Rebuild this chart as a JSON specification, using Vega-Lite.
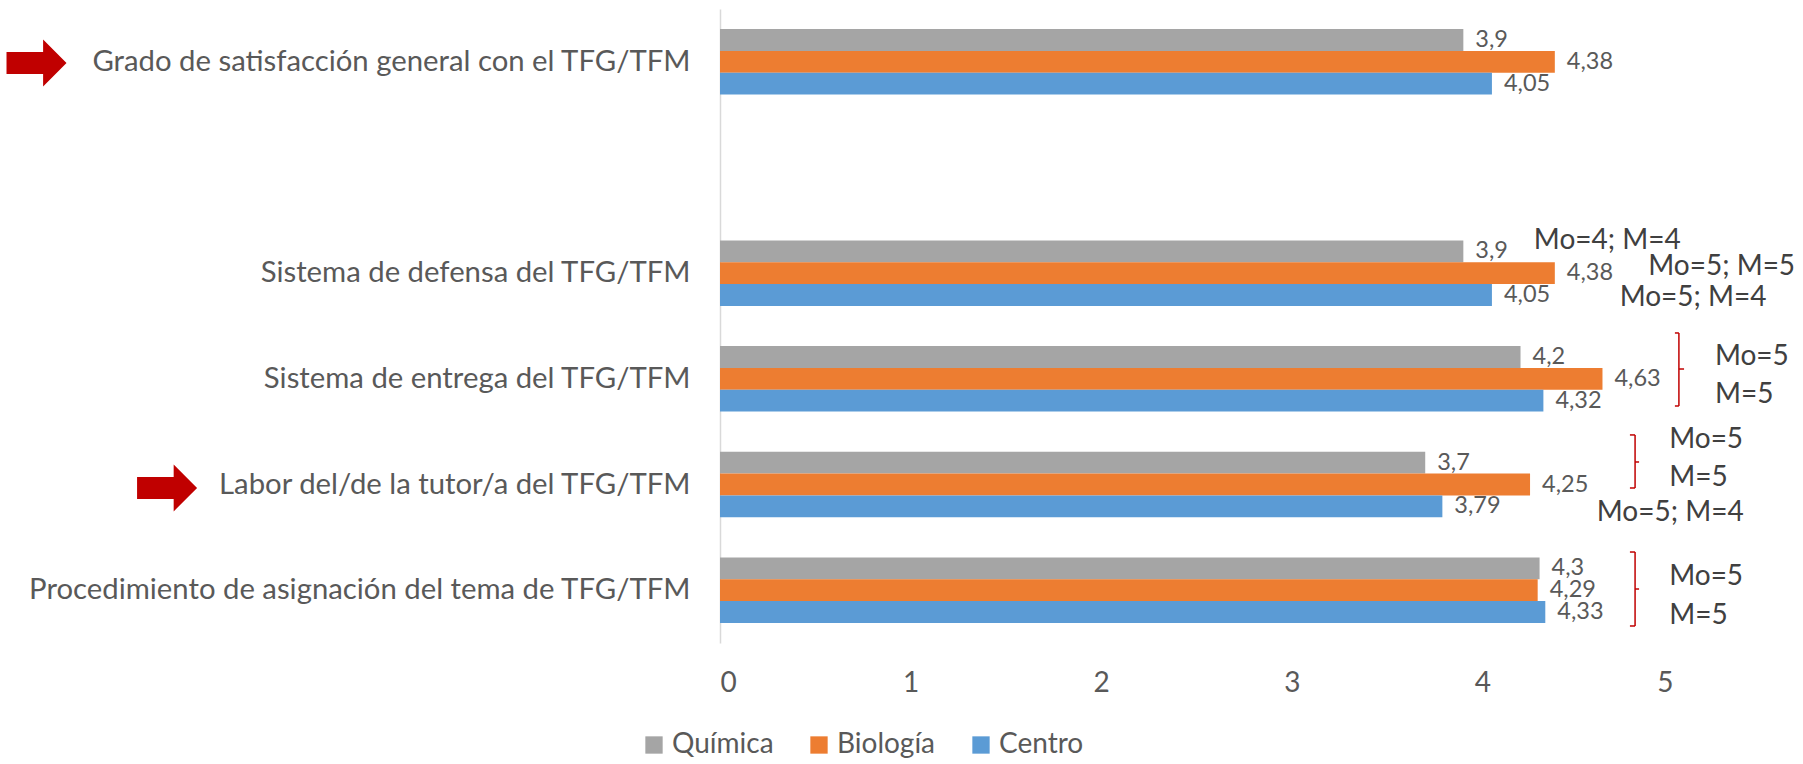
{
  "$schema": "https://vega.github.io/schema/vega-lite/v6.json",
  "width": 953,
  "height": 634,
  "autosize": {"type": "none"},
  "padding": {"left": 720, "top": 9, "right": 130, "bottom": 121},
  "background": "#ffffff",
  "config": {
    "view": {"stroke": null},
    "font": "Lato",
    "text": {"font": "Lato"}
  },
  "datasets": {
    "bars": [
      {"cat": "Grado de satisfacción general con el TFG/TFM", "serie": "Química", "v": 3.9},
      {"cat": "Grado de satisfacción general con el TFG/TFM", "serie": "Biología", "v": 4.38},
      {"cat": "Grado de satisfacción general con el TFG/TFM", "serie": "Centro", "v": 4.05},
      {"cat": "Sistema de defensa del TFG/TFM", "serie": "Química", "v": 3.9},
      {"cat": "Sistema de defensa del TFG/TFM", "serie": "Biología", "v": 4.38},
      {"cat": "Sistema de defensa del TFG/TFM", "serie": "Centro", "v": 4.05},
      {"cat": "Sistema de entrega del TFG/TFM", "serie": "Química", "v": 4.2},
      {"cat": "Sistema de entrega del TFG/TFM", "serie": "Biología", "v": 4.63},
      {"cat": "Sistema de entrega del TFG/TFM", "serie": "Centro", "v": 4.32},
      {"cat": "Labor del/de la tutor/a del TFG/TFM", "serie": "Química", "v": 3.7},
      {"cat": "Labor del/de la tutor/a del TFG/TFM", "serie": "Biología", "v": 4.25},
      {"cat": "Labor del/de la tutor/a del TFG/TFM", "serie": "Centro", "v": 3.79},
      {"cat": "Procedimiento de asignación del tema de TFG/TFM", "serie": "Química", "v": 4.3},
      {"cat": "Procedimiento de asignación del tema de TFG/TFM", "serie": "Biología", "v": 4.29},
      {"cat": "Procedimiento de asignación del tema de TFG/TFM", "serie": "Centro", "v": 4.33}
    ],
    "notes": [
      {"x": 4.27, "u": 2.196, "t": "Mo=4; M=4"},
      {"x": 4.87, "u": 2.442, "t": "Mo=5; M=5"},
      {"x": 4.72, "u": 2.735, "t": "Mo=5; M=4"},
      {"x": 5.22, "u": 3.293, "t": "Mo=5"},
      {"x": 5.22, "u": 3.653, "t": "M=5"},
      {"x": 4.98, "u": 4.079, "t": "Mo=5"},
      {"x": 4.98, "u": 4.438, "t": "M=5"},
      {"x": 4.6, "u": 4.77, "t": "Mo=5; M=4"},
      {"x": 4.98, "u": 5.375, "t": "Mo=5"},
      {"x": 4.98, "u": 5.744, "t": "M=5"}
    ],
    "segs": [
      {"x1": 5.031, "x2": 5.031, "y1": 3.066, "y2": 3.757},
      {"x1": 5.01, "x2": 5.031, "y1": 3.066, "y2": 3.066},
      {"x1": 5.01, "x2": 5.031, "y1": 3.757, "y2": 3.757},
      {"x1": 5.031, "x2": 5.058, "y1": 3.407, "y2": 3.407},
      {"x1": 4.801, "x2": 4.801, "y1": 4.031, "y2": 4.533},
      {"x1": 4.774, "x2": 4.801, "y1": 4.031, "y2": 4.031},
      {"x1": 4.774, "x2": 4.801, "y1": 4.533, "y2": 4.533},
      {"x1": 4.801, "x2": 4.822, "y1": 4.287, "y2": 4.287},
      {"x1": 4.801, "x2": 4.801, "y1": 5.139, "y2": 5.839},
      {"x1": 4.774, "x2": 4.801, "y1": 5.139, "y2": 5.139},
      {"x1": 4.774, "x2": 4.801, "y1": 5.839, "y2": 5.839},
      {"x1": 4.801, "x2": 4.822, "y1": 5.489, "y2": 5.489}
    ],
    "arrows": [
      {"x": -3.586, "u": 0.511},
      {"x": -2.901, "u": 4.533}
    ]
  },
  "layer": [
    {
      "data": {"name": "bars"},
      "mark": {"type": "bar"},
      "encoding": {
        "x": {"field": "v", "type": "quantitative", "scale": {"domain": [0, 5], "nice": false},
          "axis": {"values": [0, 1, 2, 3, 4, 5], "format": "d", "domain": false, "ticks": false, "grid": false, "labelFontSize": 28, "labelColor": "#595959", "labelPadding": 26, "title": null, "labelFont": "Lato"}},
        "y": {"field": "cat", "type": "nominal",
          "scale": {"domain": ["Grado de satisfacción general con el TFG/TFM", " ", "Sistema de defensa del TFG/TFM", "Sistema de entrega del TFG/TFM", "Labor del/de la tutor/a del TFG/TFM", "Procedimiento de asignación del tema de TFG/TFM"], "paddingInner": 0.38, "paddingOuter": 0.19},
          "axis": {"title": null, "ticks": false, "domainColor": "#D9D9D9", "domainWidth": 1.5, "labelFontSize": 29.3, "labelColor": "#595959", "labelPadding": 30, "labelLimit": 1000, "labelFont": "Lato"}},
        "yOffset": {"field": "serie", "type": "nominal", "scale": {"domain": ["Química", "Biología", "Centro"]}},
        "color": {"field": "serie", "type": "nominal",
          "scale": {"domain": ["Química", "Biología", "Centro"], "range": ["#A5A5A5", "#ED7D31", "#5B9BD5"]},
          "legend": {"title": null, "orient": "none", "direction": "horizontal", "legendX": -80, "legendY": 722, "symbolType": "square", "symbolSize": 300, "symbolStrokeWidth": 0, "labelFontSize": 28, "labelColor": "#595959", "labelOffset": 4, "columnPadding": 31, "labelFont": "Lato"}}
      }
    },
    {
      "data": {"name": "bars"},
      "transform": [{"calculate": "replace(toString(datum.v), '.', ',')", "as": "lab"}],
      "mark": {"type": "text", "align": "left", "baseline": "middle", "dx": 12, "fontSize": 23.5, "color": "#595959", "font": "Lato"},
      "encoding": {
        "x": {"field": "v", "type": "quantitative"},
        "y": {"field": "cat", "type": "nominal",
          "scale": {"domain": ["Grado de satisfacción general con el TFG/TFM", " ", "Sistema de defensa del TFG/TFM", "Sistema de entrega del TFG/TFM", "Labor del/de la tutor/a del TFG/TFM", "Procedimiento de asignación del tema de TFG/TFM"], "paddingInner": 0.38, "paddingOuter": 0.19},
          "axis": null},
        "yOffset": {"field": "serie", "type": "nominal"},
        "text": {"field": "lab", "type": "nominal"}
      }
    },
    {
      "data": {"name": "notes"},
      "mark": {"type": "text", "align": "left", "baseline": "middle", "fontSize": 28, "color": "#404040", "font": "Lato"},
      "encoding": {
        "x": {"field": "x", "type": "quantitative"},
        "y": {"field": "u", "type": "quantitative", "scale": {"domain": [0, 6], "reverse": true, "nice": false, "zero": false}, "axis": null},
        "text": {"field": "t", "type": "nominal"}
      }
    },
    {
      "data": {"name": "segs"},
      "mark": {"type": "rule", "color": "#C00000", "strokeWidth": 1.5},
      "encoding": {
        "x": {"field": "x1", "type": "quantitative"},
        "x2": {"field": "x2"},
        "y": {"field": "y1", "type": "quantitative", "scale": {"domain": [0, 6], "reverse": true, "nice": false, "zero": false}, "axis": null},
        "y2": {"field": "y2"}
      }
    },
    {
      "data": {"name": "arrows"},
      "mark": {"type": "point", "filled": true, "color": "#C00000", "opacity": 1, "size": 3600, "strokeWidth": 0,
        "shape": "M-1,-0.37L0.22,-0.37L0.22,-0.78L1,0L0.22,0.78L0.22,0.37L-1,0.37Z"},
      "encoding": {
        "x": {"field": "x", "type": "quantitative"},
        "y": {"field": "u", "type": "quantitative", "scale": {"domain": [0, 6], "reverse": true, "nice": false, "zero": false}, "axis": null}
      }
    }
  ],
  "resolve": {"scale": {"y": "independent"}}
}
